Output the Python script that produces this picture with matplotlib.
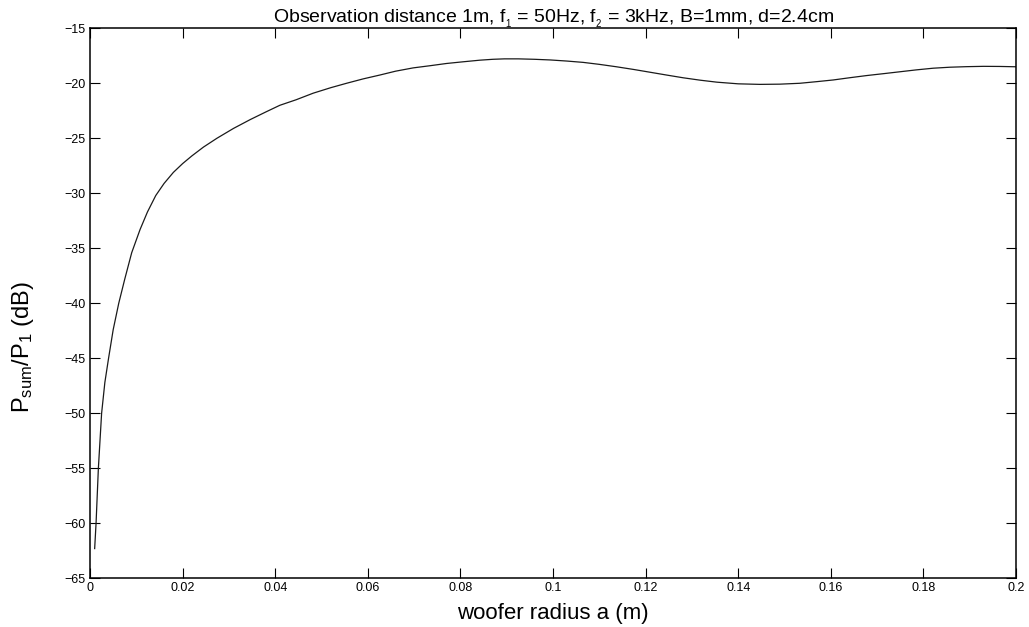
import numpy as np
import matplotlib
matplotlib.use("Agg")
import matplotlib.pyplot as plt

# curva: raio do woofer (m) x P_sum/P_1 (dB)
radius = [0.001, 0.0013, 0.0018, 0.0025, 0.0032, 0.0040, 0.0050, 0.0062,
          0.0075, 0.0090, 0.0108, 0.0124, 0.0142, 0.0160, 0.0180, 0.0200,
          0.0220, 0.0245, 0.0274, 0.0310, 0.0346, 0.0380, 0.0410, 0.0445,
          0.0482, 0.0520, 0.0554, 0.0590, 0.0626, 0.0660, 0.0698, 0.0735,
          0.0770, 0.0805, 0.0842, 0.0870, 0.0895, 0.0925, 0.0960, 0.0994,
          0.1030, 0.1065, 0.1100, 0.1137, 0.1175, 0.1210, 0.1245, 0.1281,
          0.1318, 0.1354, 0.1400, 0.1447, 0.1490, 0.1533, 0.1570, 0.1605,
          0.1640, 0.1677, 0.1715, 0.1750, 0.1785, 0.1821, 0.1857, 0.1893,
          0.1930, 0.1965, 0.2000]
ratio_db = [-62.3, -60.0, -55.0, -50.0, -47.2, -45.0, -42.4, -40.0,
            -37.8, -35.4, -33.3, -31.7, -30.2, -29.1, -28.1, -27.3,
            -26.6, -25.8, -25.0, -24.1, -23.3, -22.6, -22.0, -21.5,
            -20.9, -20.4, -20.0, -19.6, -19.25, -18.9, -18.6, -18.4,
            -18.2, -18.05, -17.9, -17.82, -17.78, -17.78, -17.82, -17.88,
            -17.98, -18.1, -18.28, -18.5, -18.75, -19.0, -19.25, -19.5,
            -19.72, -19.9, -20.05, -20.1, -20.08, -20.0, -19.85, -19.7,
            -19.5, -19.3, -19.12, -18.95, -18.78, -18.63, -18.54, -18.49,
            -18.46, -18.47, -18.5]

xticks = np.arange(0, 0.2001, 0.02)
yticks = np.arange(-65, -14, 5)

plt.rcParams["font.family"] = ["Liberation Sans", "DejaVu Sans"]
plt.rcParams["mathtext.fontset"] = "custom"
plt.rcParams["mathtext.rm"] = "Liberation Sans"
plt.rcParams["mathtext.it"] = "Liberation Sans"

fig = plt.figure(figsize=(10.29, 6.27), dpi=100)
ax = fig.add_axes([0.0875, 0.0777, 0.8999, 0.8772])

ax.plot(radius, ratio_db, color="#1a1a1a", linewidth=0.9)

ax.set_xlim(0, 0.2)
ax.set_ylim(-65, -15)
ax.set_xticks(xticks)
ax.set_xticklabels(["0"] + ["%g" % v for v in xticks[1:]])
ax.set_yticks(yticks)
ax.tick_params(direction="in", top=True, right=True, length=7, width=0.8,
               labelsize=9, pad=3)
for side in ax.spines.values():
    side.set_linewidth(1.1)
    side.set_color("black")

ax.set_title(r"Observation distance 1m, f$_{_1}$ = 50Hz, f$_{_2}$ = 3kHz, B=1mm, d=2.4cm",
             fontsize=14, pad=4)
ax.set_xlabel("woofer radius a (m)", fontsize=16)
ax.xaxis.set_label_coords(0.5, -0.045)
ax.set_ylabel(r"P$_{\rm sum}$/P$_{\rm 1}$ (dB)", fontsize=17)
ax.yaxis.set_label_coords(-0.058, 0.42)

fig.savefig("out.png", dpi=100, facecolor="white")
